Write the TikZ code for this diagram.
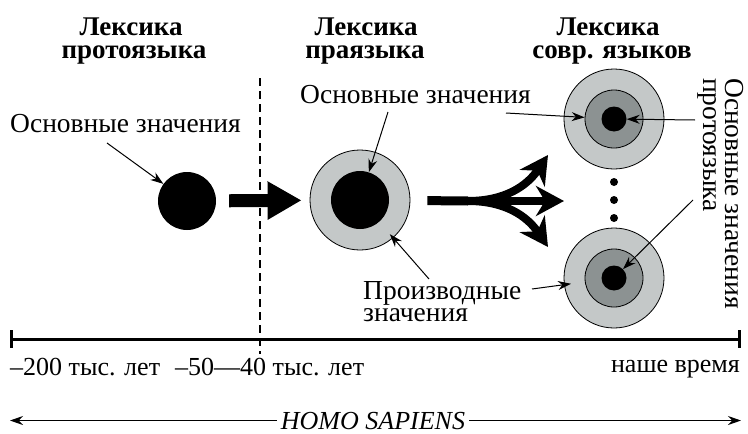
\documentclass[tikz,border=0pt]{standalone}
\usepackage{fontspec}
\setmainfont{Liberation Serif}
\usetikzlibrary{arrows.meta}
\definecolor{ringlight}{RGB}{196,200,200}
\definecolor{ringdark}{RGB}{140,146,146}
\begin{document}
\begin{tikzpicture}[x=1pt,y=-1pt,
  txt/.style={inner sep=0pt, anchor=base west, font=\fontsize{27.5}{28}\selectfont},
  axtxt/.style={inner sep=0pt, anchor=base west, font=\fontsize{26}{28}\selectfont},
  hd/.style={inner sep=0pt, anchor=base, font=\fontsize{27}{27}\selectfont\bfseries},
  outerring/.style={circle, draw=black, line width=0.8pt, fill=ringlight, minimum size=100pt, inner sep=0pt},
  midring/.style={circle, draw=black, line width=0.8pt, fill=ringdark, minimum size=58pt, inner sep=0pt},
  bigcore/.style={circle, fill=black, inner sep=0pt, minimum size=58pt},
  smallcore/.style={circle, fill=black, inner sep=0pt, minimum size=25pt},
  dotnode/.style={circle, fill=black, inner sep=0pt, minimum size=8pt},
  thinarr/.style={line width=1pt, -{Stealth[length=13pt,width=9pt]}},
  bigarr/.style={line width=13pt, -{Triangle[length=34pt,width=36pt]}},
  forkline/.style={line width=9pt},
  forkarr/.style={line width=8pt, -{Stealth[length=28pt,width=30pt,inset=9pt]}},
  axisline/.style={line width=3pt}
]
\useasboundingbox (0,0) rectangle (748,434);

% headers
\node[hd] (h1a) at (131,35) {Лексика};
\node[hd] (h1b) at (134,58) {протоязыка};
\node[hd] (h2a) at (366,35) {Лексика};
\node[hd] (h2b) at (365,58) {праязыка};
\node[hd] (h3a) at (608,35) {Лексика};
\node[hd] (h3b) at (612,58) {совр. языков};

% dashed divider
\draw[line width=2.5pt, dash pattern=on 8pt off 5pt] (260,78) -- (260,354);

% circles
\node[bigcore] (c1) at (187,201) {};
\node[outerring] (c2) at (360,200) {};
\node[bigcore] (c2in) at (360,200) {};
\node[outerring] (r1) at (614,119) {};
\node[midring] (r1m) at (614,119) {};
\node[smallcore] (r1c) at (614,119) {};
\node[outerring] (r2) at (614,278) {};
\node[midring] (r2m) at (614,278) {};
\node[smallcore] (r2c) at (614,278) {};
\node[dotnode] (d1) at (614,182) {};
\node[dotnode] (d2) at (614,200) {};
\node[dotnode] (d3) at (614,218) {};

% big arrow
\draw[bigarr, shorten <=13pt, shorten >=8pt] (c1) -- (c2);

% fork arrow
\coordinate (fk) at (468,201);
\coordinate (ft) at (548,155);
\coordinate (fm) at (564,201);
\coordinate (fb) at (548,247);
\draw[forkline, shorten <=17pt] (c2) -- (fk);
\draw[forkarr] (fk) -- (fm);
\draw[forkarr] (fk) .. controls (505,201) and (527,186) .. (ft);
\draw[forkarr] (fk) .. controls (505,201) and (527,216) .. (fb);

% labels
\node[txt] (l1) at (10,132) {Основные значения};
\node[txt] (l2) at (300,103) {Основные значения};
\node[txt] (pr1) at (363,299) {Производные};
\node[txt] (pr2) at (363,321) {значения};
\node[txt, rotate=-90] (vt1) at (725,78) {Основные значения};
\node[txt, rotate=-90] (vt2) at (703,78) {протоязыка};

% label arrows
\coordinate (l1s) at (107,143);
\coordinate (l2s) at (388,112);
\coordinate (l2e) at (506,113);
\coordinate (prs) at (429,279);
\coordinate (pre) at (532,289);
\coordinate (v1s) at (695,120);
\coordinate (v2s) at (693,200);
\draw[thinarr] (l1s) -- (c1);
\draw[thinarr] (l2s) -- (c2in);
\draw[thinarr] (l2e) -- (r1m);
\draw[thinarr, shorten >=-5pt] (prs) -- (c2);
\draw[thinarr, shorten >=-7pt] (pre) -- (r2);
\draw[thinarr] (v1s) -- (r1c);
\draw[thinarr] (v2s) -- (r2c);

% time axis
\coordinate (ax0) at (11,339);
\coordinate (ax1) at (739,339);
\draw[axisline] (ax0) -- (ax1);
\draw[axisline] (ax0) ++(0,-9) -- ++(0,18);
\draw[axisline] (ax1) ++(0,-9) -- ++(0,18);

\node[axtxt] (t1) at (10,375) {–200 тыс. лет};
\node[axtxt] (t2) at (175,375) {–50—40 тыс. лет};
\node[axtxt, anchor=base east] (t3) at (740,372) {наше время};

% Homo sapiens
\node[inner xsep=4pt, inner ysep=0pt, anchor=base, font=\fontsize{26}{28}\selectfont\itshape] (hs) at (373,429) {HOMO SAPIENS};
\coordinate (hl) at (10,421);
\coordinate (hr) at (741,421);
\draw[thinarr] (hs.west) -- (hs.west -| hl);
\draw[thinarr] (hs.east) -- (hs.east -| hr);
\end{tikzpicture}
\end{document}
